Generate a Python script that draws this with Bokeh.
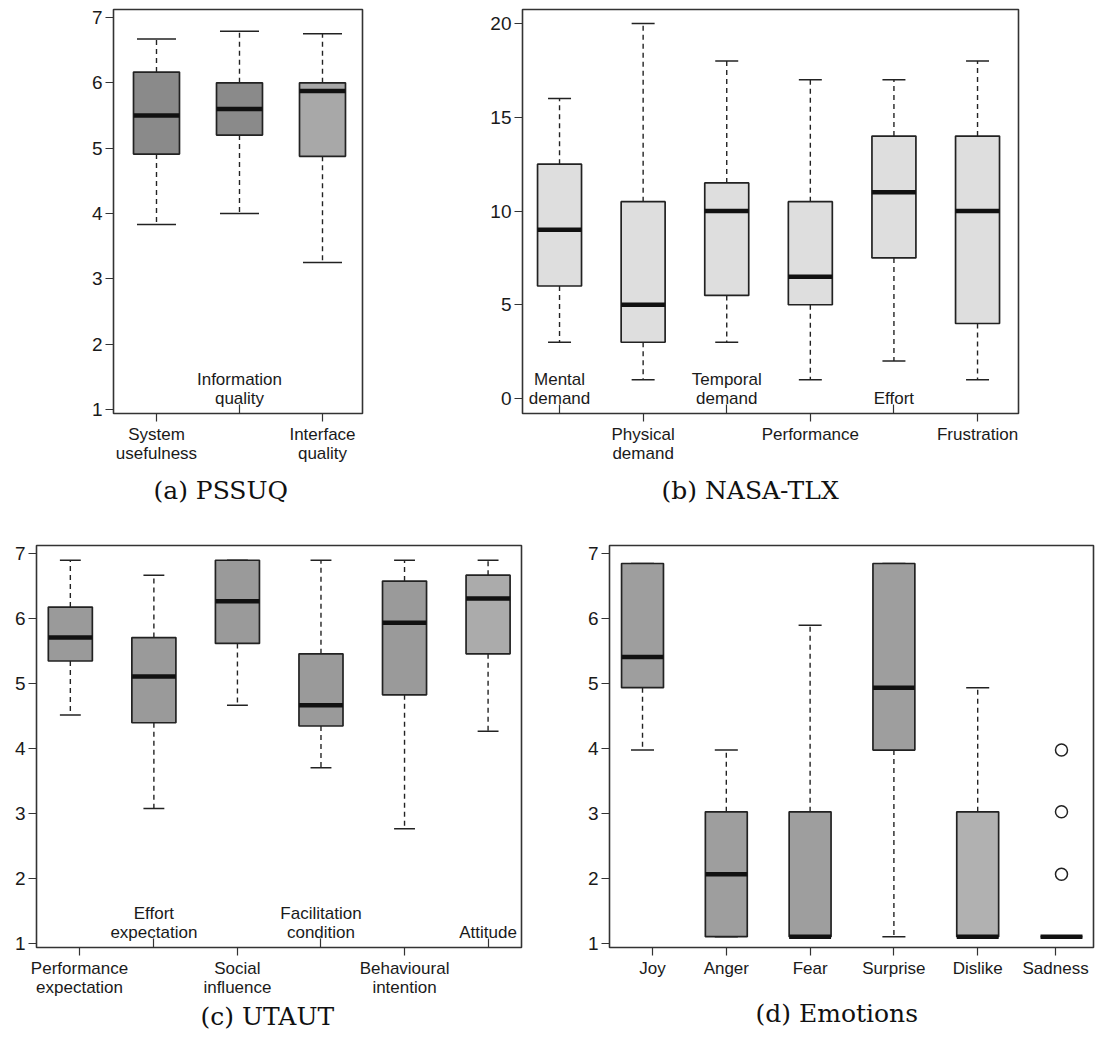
from bokeh.plotting import figure
from bokeh.layouts import column, row
from bokeh.models import FixedTicker, LinearAxis, Range1d, Title
from bokeh.embed import file_html
from bokeh.resources import INLINE

# ---------------- data ----------------
pssuq_labels = ["System\nusefulness", "Information\nquality", "Interface\nquality"]
pssuq_min = [3.83, 4.00, 3.25]
pssuq_q1 = [4.91, 5.20, 4.875]
pssuq_med = [5.50, 5.60, 5.875]
pssuq_q3 = [6.165, 6.00, 6.00]
pssuq_max = [6.67, 6.79, 6.75]
pssuq_yticks = [1, 2, 3, 4, 5, 6, 7]

tlx_labels = ["Mental\ndemand", "Physical\ndemand", "Temporal\ndemand", "Performance", "Effort", "Frustration"]
tlx_min = [3, 1, 3, 1, 2, 1]
tlx_q1 = [6, 3, 5.5, 5, 7.5, 4]
tlx_med = [9, 5, 10, 6.5, 11, 10]
tlx_q3 = [12.5, 10.5, 11.5, 10.5, 14, 14]
tlx_max = [16, 20, 18, 17, 17, 18]
tlx_yticks = [0, 5, 10, 15, 20]

utaut_labels = ["Performance\nexpectation", "Effort\nexpectation", "Social\ninfluence",
                "Facilitation\ncondition", "Behavioural\nintention", "Attitude"]
utaut_min = [4.52, 3.08, 4.67, 3.71, 2.77, 4.27]
utaut_q1 = [5.35, 4.40, 5.62, 4.35, 4.83, 5.46]
utaut_med = [5.71, 5.11, 6.27, 4.67, 5.94, 6.31]
utaut_q3 = [6.18, 5.71, 6.90, 5.46, 6.58, 6.67]
utaut_max = [6.90, 6.67, 6.90, 6.90, 6.90, 6.90]
utaut_label_pos = [1.11, 2, 3, 4, 5, 6]
utaut_yticks = [1, 2, 3, 4, 5, 6, 7]

emo_labels = ["Joy", "Anger", "Fear", "Surprise", "Dislike", "Sadness"]
emo_min = [3.98, 1.11, 1.11, 1.11, 1.11, 1.11]
emo_q1 = [4.94, 1.11, 1.11, 3.98, 1.11, 1.11]
emo_med = [5.41, 2.07, 1.11, 4.94, 1.11, 1.11]
emo_q3 = [6.85, 3.03, 3.03, 6.85, 3.03, 1.11]
emo_max = [6.85, 3.98, 5.90, 6.85, 4.94, 1.11]
emo_label_pos = [1.12, 2, 3, 4, 5, 5.93]
sadness_outliers = [2.07, 3.03, 3.98]
emo_yticks = [1, 2, 3, 4, 5, 6, 7]

# ---------------- styles ----------------
pssuq_fill = ["#8a8a8a", "#8a8a8a", "#a8a8a8"]
tlx_fill = ["#dedede"] * 6
utaut_fill = ["#9a9a9a"] * 5 + ["#ababab"]
emo_fill = ["#9e9e9e"] * 4 + ["#b1b1b1", "#9e9e9e"]

SANS = "Liberation Sans"
SERIF = "DejaVu Serif"
INK = "#1a1a1a"


def make_panel(width, height, borders, xr, yr, mins, q1s, meds, q3s, maxs, fills,
               labels, label_pos, outer_idx, inner_idx, yticks, box_w, cap_w,
               caption, cap_offset, cap_standoff):
    left, right, top, bottom = borders
    p = figure(width=width, height=height, output_backend="svg", toolbar_location=None,
               title=None, x_range=Range1d(*xr), y_range=Range1d(*yr),
               min_border_left=left, min_border_right=right,
               min_border_top=top, min_border_bottom=bottom)
    p.xgrid.visible = False
    p.ygrid.visible = False
    p.outline_line_color = "#333333"
    p.outline_line_width = 1.6
    p.background_fill_color = "white"
    p.border_fill_color = "white"

    n = len(meds)
    pos = list(range(1, n + 1))

    # whiskers
    p.segment(x0=pos, y0=q3s, x1=pos, y1=maxs, line_color="#222222", line_width=1.4, line_dash="5 4")
    p.segment(x0=pos, y0=q1s, x1=pos, y1=mins, line_color="#222222", line_width=1.4, line_dash="5 4")
    # caps
    p.segment(x0=[x - cap_w / 2 for x in pos], y0=maxs, x1=[x + cap_w / 2 for x in pos], y1=maxs,
              line_color="#222222", line_width=1.5)
    p.segment(x0=[x - cap_w / 2 for x in pos], y0=mins, x1=[x + cap_w / 2 for x in pos], y1=mins,
              line_color="#222222", line_width=1.5)
    # boxes
    p.quad(left=[x - box_w / 2 for x in pos], right=[x + box_w / 2 for x in pos],
           bottom=q1s, top=q3s, fill_color=fills, line_color="#222222", line_width=1.7)
    # medians
    p.segment(x0=[x - box_w / 2 for x in pos], y0=meds, x1=[x + box_w / 2 for x in pos], y1=meds,
              line_color="#111111", line_width=4.5, line_cap="butt")

    # y axis
    ya = p.yaxis[0]
    ya.ticker = FixedTicker(ticks=yticks)
    ya.axis_line_color = None
    ya.major_tick_out = 8
    ya.major_tick_in = 0
    ya.minor_tick_line_color = None
    ya.major_tick_line_color = "#333333"
    ya.major_tick_line_width = 1.2
    ya.major_label_standoff = 3
    ya.major_label_text_font = SANS
    ya.major_label_text_font_size = "19px"
    ya.major_label_text_color = INK

    # outer x axis (below)
    xa = p.below[0]
    xa.ticker = FixedTicker(ticks=[label_pos[i] for i in outer_idx])
    xa.major_label_overrides = {label_pos[i]: labels[i] for i in outer_idx}
    xa.axis_line_color = None
    xa.major_tick_out = 8
    xa.major_tick_in = 0
    xa.minor_tick_line_color = None
    xa.major_tick_line_color = "#333333"
    xa.major_tick_line_width = 1.2
    xa.major_label_standoff = 3
    xa.major_label_text_font = SANS
    xa.major_label_text_font_size = "17px"
    xa.major_label_text_color = INK
    xa.major_label_text_line_height = 1.0

    # inner labels: axis fixed at frame bottom, ticks pointing into the plot
    if inner_idx:
        ia = LinearAxis(fixed_location=yr[0])
        ia.ticker = FixedTicker(ticks=[label_pos[i] for i in inner_idx])
        ia.major_label_overrides = {label_pos[i]: labels[i] for i in inner_idx}
        ia.axis_line_color = None
        ia.major_tick_out = 9
        ia.major_tick_in = 0
        ia.minor_tick_line_color = None
        ia.major_tick_line_color = "#333333"
        ia.major_tick_line_width = 1.2
        ia.major_label_standoff = -3
        ia.major_label_text_font = SANS
        ia.major_label_text_font_size = "17px"
        ia.major_label_text_color = INK
        ia.major_label_text_line_height = 1.0
        p.add_layout(ia, "above")

    t = Title(text=caption, align="left", offset=cap_offset, standoff=cap_standoff,
              text_font=SERIF, text_font_size="25px", text_font_style="normal", text_color="#111111")
    p.add_layout(t, "below")
    return p, pos


pa, _ = make_panel(440, 528, (113, 78, 9, 114), (0.482, 3.482), (0.939, 7.122),
                   pssuq_min, pssuq_q1, pssuq_med, pssuq_q3, pssuq_max, pssuq_fill,
                   pssuq_labels, [1, 2, 3], [0, 2], [1], pssuq_yticks, 0.554, 0.47,
                   "(a) PSSUQ", 40, 16)

pb, _ = make_panel(657, 528, (82, 79, 9, 115), (0.557, 6.49), (-0.8, 20.75),
                   tlx_min, tlx_q1, tlx_med, tlx_q3, tlx_max, tlx_fill,
                   tlx_labels, [1, 2, 3, 4, 5, 6], [1, 3, 5], [0, 2, 4], tlx_yticks, 0.526, 0.275,
                   "(b) NASA-TLX", 139, 16)

pc, _ = make_panel(565, 515, (36, 44, 17, 94), (0.595, 6.40), (0.943, 7.127),
                   utaut_min, utaut_q1, utaut_med, utaut_q3, utaut_max, utaut_fill,
                   utaut_labels, utaut_label_pos, [0, 2, 4], [1, 3, 5], utaut_yticks, 0.527, 0.25,
                   "(c) UTAUT", 164, 0)

pd_, posd = make_panel(532, 515, (44, 4, 17, 94), (0.606, 6.382), (0.943, 7.127),
                       emo_min, emo_q1, emo_med, emo_q3, emo_max, emo_fill,
                       emo_labels, emo_label_pos, [0, 1, 2, 3, 4, 5], [], emo_yticks, 0.50, 0.275,
                       "(d) Emotions", 146, 32)
pd_.scatter(x=[posd[-1]] * len(sadness_outliers), y=sadness_outliers, marker="circle", size=12,
            fill_color="white", line_color="#222222", line_width=1.5)

layout = column(row(pa, pb), row(pc, pd_))
open("out.html", "w").write(file_html(layout, INLINE))
